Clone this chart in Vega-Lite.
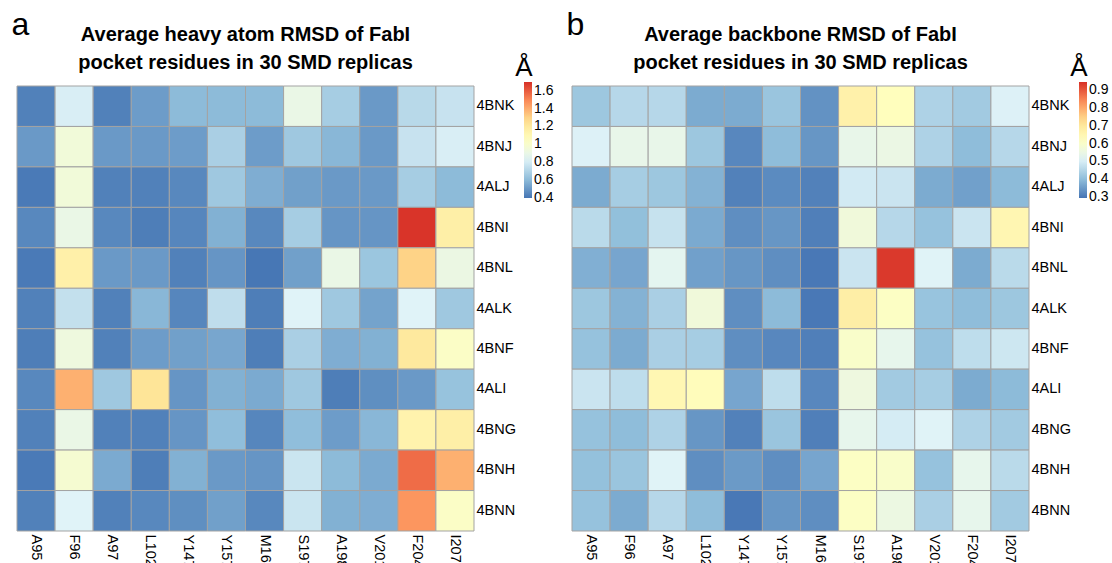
{
  "$schema": "https://vega.github.io/schema/vega-lite/v6.json",
  "background": "white",
  "padding": {"left": 11, "top": 8, "right": 0, "bottom": 0},
  "spacing": 12,
  "config": {
    "font": "Liberation Sans",
    "view": {"stroke": null},
    "scale": {"bandPaddingInner": 0, "bandPaddingOuter": 0},
    "axis": {"ticks": false, "domain": false, "grid": false, "title": null, "labelFont": "Liberation Sans", "labelFontSize": 14.5, "labelColor": "#000000"},
    "axisX": {"labelAngle": 90, "labelAlign": "left", "labelBaseline": "middle", "labelPadding": 3},
    "axisY": {"labelPadding": 2},
    "legend": {"gradientLength": 116, "gradientThickness": 8, "gradientStrokeWidth": 0, "titleFont": "Liberation Sans", "titleFontSize": 26, "titleFontWeight": "normal", "titleColor": "#000000", "titleAnchor": "start", "titleAlign": "center", "titlePadding": 1, "labelFont": "Liberation Sans", "labelFontSize": 14, "labelColor": "#000000", "labelOffset": 1, "labelOverlap": false}
  },
  "datasets": {
    "heavy": [
      {"pdb":"4BNK","residue":"A95","rmsd":0.43},{"pdb":"4BNK","residue":"F96","rmsd":0.81},{"pdb":"4BNK","residue":"A97","rmsd":0.43},{"pdb":"4BNK","residue":"L102","rmsd":0.51},{"pdb":"4BNK","residue":"Y147","rmsd":0.6},{"pdb":"4BNK","residue":"Y157","rmsd":0.6},{"pdb":"4BNK","residue":"M160","rmsd":0.6},{"pdb":"4BNK","residue":"S197","rmsd":0.9},{"pdb":"4BNK","residue":"A198","rmsd":0.67},{"pdb":"4BNK","residue":"V201","rmsd":0.5},{"pdb":"4BNK","residue":"F204","rmsd":0.72},{"pdb":"4BNK","residue":"I207","rmsd":0.76},
      {"pdb":"4BNJ","residue":"A95","rmsd":0.5},{"pdb":"4BNJ","residue":"F96","rmsd":0.95},{"pdb":"4BNJ","residue":"A97","rmsd":0.5},{"pdb":"4BNJ","residue":"L102","rmsd":0.5},{"pdb":"4BNJ","residue":"Y147","rmsd":0.51},{"pdb":"4BNJ","residue":"Y157","rmsd":0.68},{"pdb":"4BNJ","residue":"M160","rmsd":0.51},{"pdb":"4BNJ","residue":"S197","rmsd":0.65},{"pdb":"4BNJ","residue":"A198","rmsd":0.59},{"pdb":"4BNJ","residue":"V201","rmsd":0.5},{"pdb":"4BNJ","residue":"F204","rmsd":0.76},{"pdb":"4BNJ","residue":"I207","rmsd":0.81},
      {"pdb":"4ALJ","residue":"A95","rmsd":0.41},{"pdb":"4ALJ","residue":"F96","rmsd":0.95},{"pdb":"4ALJ","residue":"A97","rmsd":0.43},{"pdb":"4ALJ","residue":"L102","rmsd":0.43},{"pdb":"4ALJ","residue":"Y147","rmsd":0.45},{"pdb":"4ALJ","residue":"Y157","rmsd":0.65},{"pdb":"4ALJ","residue":"M160","rmsd":0.56},{"pdb":"4ALJ","residue":"S197","rmsd":0.52},{"pdb":"4ALJ","residue":"A198","rmsd":0.5},{"pdb":"4ALJ","residue":"V201","rmsd":0.5},{"pdb":"4ALJ","residue":"F204","rmsd":0.67},{"pdb":"4ALJ","residue":"I207","rmsd":0.6},
      {"pdb":"4BNI","residue":"A95","rmsd":0.45},{"pdb":"4BNI","residue":"F96","rmsd":0.9},{"pdb":"4BNI","residue":"A97","rmsd":0.45},{"pdb":"4BNI","residue":"L102","rmsd":0.42},{"pdb":"4BNI","residue":"Y147","rmsd":0.445},{"pdb":"4BNI","residue":"Y157","rmsd":0.57},{"pdb":"4BNI","residue":"M160","rmsd":0.45},{"pdb":"4BNI","residue":"S197","rmsd":0.67},{"pdb":"4BNI","residue":"A198","rmsd":0.49},{"pdb":"4BNI","residue":"V201","rmsd":0.49},{"pdb":"4BNI","residue":"F204","rmsd":1.69},{"pdb":"4BNI","residue":"I207","rmsd":1.16},
      {"pdb":"4BNL","residue":"A95","rmsd":0.41},{"pdb":"4BNL","residue":"F96","rmsd":1.15},{"pdb":"4BNL","residue":"A97","rmsd":0.5},{"pdb":"4BNL","residue":"L102","rmsd":0.5},{"pdb":"4BNL","residue":"Y147","rmsd":0.43},{"pdb":"4BNL","residue":"Y157","rmsd":0.49},{"pdb":"4BNL","residue":"M160","rmsd":0.4},{"pdb":"4BNL","residue":"S197","rmsd":0.52},{"pdb":"4BNL","residue":"A198","rmsd":0.9},{"pdb":"4BNL","residue":"V201","rmsd":0.64},{"pdb":"4BNL","residue":"F204","rmsd":1.3},{"pdb":"4BNL","residue":"I207","rmsd":0.91},
      {"pdb":"4ALK","residue":"A95","rmsd":0.43},{"pdb":"4ALK","residue":"F96","rmsd":0.75},{"pdb":"4ALK","residue":"A97","rmsd":0.43},{"pdb":"4ALK","residue":"L102","rmsd":0.59},{"pdb":"4ALK","residue":"Y147","rmsd":0.445},{"pdb":"4ALK","residue":"Y157","rmsd":0.74},{"pdb":"4ALK","residue":"M160","rmsd":0.42},{"pdb":"4ALK","residue":"S197","rmsd":0.83},{"pdb":"4ALK","residue":"A198","rmsd":0.65},{"pdb":"4ALK","residue":"V201","rmsd":0.53},{"pdb":"4ALK","residue":"F204","rmsd":0.83},{"pdb":"4ALK","residue":"I207","rmsd":0.65},
      {"pdb":"4BNF","residue":"A95","rmsd":0.42},{"pdb":"4BNF","residue":"F96","rmsd":0.93},{"pdb":"4BNF","residue":"A97","rmsd":0.43},{"pdb":"4BNF","residue":"L102","rmsd":0.51},{"pdb":"4BNF","residue":"Y147","rmsd":0.52},{"pdb":"4BNF","residue":"Y157","rmsd":0.54},{"pdb":"4BNF","residue":"M160","rmsd":0.42},{"pdb":"4BNF","residue":"S197","rmsd":0.68},{"pdb":"4BNF","residue":"A198","rmsd":0.56},{"pdb":"4BNF","residue":"V201","rmsd":0.57},{"pdb":"4BNF","residue":"F204","rmsd":1.2},{"pdb":"4BNF","residue":"I207","rmsd":1.02},
      {"pdb":"4ALI","residue":"A95","rmsd":0.45},{"pdb":"4ALI","residue":"F96","rmsd":1.39},{"pdb":"4ALI","residue":"A97","rmsd":0.65},{"pdb":"4ALI","residue":"L102","rmsd":1.23},{"pdb":"4ALI","residue":"Y147","rmsd":0.49},{"pdb":"4ALI","residue":"Y157","rmsd":0.57},{"pdb":"4ALI","residue":"M160","rmsd":0.55},{"pdb":"4ALI","residue":"S197","rmsd":0.65},{"pdb":"4ALI","residue":"A198","rmsd":0.42},{"pdb":"4ALI","residue":"V201","rmsd":0.47},{"pdb":"4ALI","residue":"F204","rmsd":0.5},{"pdb":"4ALI","residue":"I207","rmsd":0.63},
      {"pdb":"4BNG","residue":"A95","rmsd":0.43},{"pdb":"4BNG","residue":"F96","rmsd":0.9},{"pdb":"4BNG","residue":"A97","rmsd":0.43},{"pdb":"4BNG","residue":"L102","rmsd":0.43},{"pdb":"4BNG","residue":"Y147","rmsd":0.49},{"pdb":"4BNG","residue":"Y157","rmsd":0.61},{"pdb":"4BNG","residue":"M160","rmsd":0.445},{"pdb":"4BNG","residue":"S197","rmsd":0.61},{"pdb":"4BNG","residue":"A198","rmsd":0.51},{"pdb":"4BNG","residue":"V201","rmsd":0.59},{"pdb":"4BNG","residue":"F204","rmsd":1.13},{"pdb":"4BNG","residue":"I207","rmsd":1.16},
      {"pdb":"4BNH","residue":"A95","rmsd":0.41},{"pdb":"4BNH","residue":"F96","rmsd":0.98},{"pdb":"4BNH","residue":"A97","rmsd":0.55},{"pdb":"4BNH","residue":"L102","rmsd":0.42},{"pdb":"4BNH","residue":"Y147","rmsd":0.57},{"pdb":"4BNH","residue":"Y157","rmsd":0.5},{"pdb":"4BNH","residue":"M160","rmsd":0.49},{"pdb":"4BNH","residue":"S197","rmsd":0.77},{"pdb":"4BNH","residue":"A198","rmsd":0.6},{"pdb":"4BNH","residue":"V201","rmsd":0.55},{"pdb":"4BNH","residue":"F204","rmsd":1.56},{"pdb":"4BNH","residue":"I207","rmsd":1.39},
      {"pdb":"4BNN","residue":"A95","rmsd":0.43},{"pdb":"4BNN","residue":"F96","rmsd":0.83},{"pdb":"4BNN","residue":"A97","rmsd":0.43},{"pdb":"4BNN","residue":"L102","rmsd":0.45},{"pdb":"4BNN","residue":"Y147","rmsd":0.47},{"pdb":"4BNN","residue":"Y157","rmsd":0.52},{"pdb":"4BNN","residue":"M160","rmsd":0.45},{"pdb":"4BNN","residue":"S197","rmsd":0.77},{"pdb":"4BNN","residue":"A198","rmsd":0.57},{"pdb":"4BNN","residue":"V201","rmsd":0.56},{"pdb":"4BNN","residue":"F204","rmsd":1.46},{"pdb":"4BNN","residue":"I207","rmsd":1.02}
    ],
    "backbone": [
      {"pdb":"4BNK","residue":"A95","rmsd":0.42},{"pdb":"4BNK","residue":"F96","rmsd":0.454},{"pdb":"4BNK","residue":"A97","rmsd":0.454},{"pdb":"4BNK","residue":"L102","rmsd":0.374},{"pdb":"4BNK","residue":"Y147","rmsd":0.374},{"pdb":"4BNK","residue":"Y157","rmsd":0.416},{"pdb":"4BNK","residue":"M160","rmsd":0.338},{"pdb":"4BNK","residue":"S197","rmsd":0.668},{"pdb":"4BNK","residue":"A198","rmsd":0.625},{"pdb":"4BNK","residue":"V201","rmsd":0.443},{"pdb":"4BNK","residue":"F204","rmsd":0.427},{"pdb":"4BNK","residue":"I207","rmsd":0.508},
      {"pdb":"4BNJ","residue":"A95","rmsd":0.508},{"pdb":"4BNJ","residue":"F96","rmsd":0.54},{"pdb":"4BNJ","residue":"A97","rmsd":0.54},{"pdb":"4BNJ","residue":"L102","rmsd":0.42},{"pdb":"4BNJ","residue":"Y147","rmsd":0.322},{"pdb":"4BNJ","residue":"Y157","rmsd":0.4},{"pdb":"4BNJ","residue":"M160","rmsd":0.343},{"pdb":"4BNJ","residue":"S197","rmsd":0.54},{"pdb":"4BNJ","residue":"A198","rmsd":0.55},{"pdb":"4BNJ","residue":"V201","rmsd":0.443},{"pdb":"4BNJ","residue":"F204","rmsd":0.4},{"pdb":"4BNJ","residue":"I207","rmsd":0.454},
      {"pdb":"4ALJ","residue":"A95","rmsd":0.374},{"pdb":"4ALJ","residue":"F96","rmsd":0.432},{"pdb":"4ALJ","residue":"A97","rmsd":0.42},{"pdb":"4ALJ","residue":"L102","rmsd":0.385},{"pdb":"4ALJ","residue":"Y147","rmsd":0.313},{"pdb":"4ALJ","residue":"Y157","rmsd":0.327},{"pdb":"4ALJ","residue":"M160","rmsd":0.313},{"pdb":"4ALJ","residue":"S197","rmsd":0.492},{"pdb":"4ALJ","residue":"A198","rmsd":0.481},{"pdb":"4ALJ","residue":"V201","rmsd":0.374},{"pdb":"4ALJ","residue":"F204","rmsd":0.358},{"pdb":"4ALJ","residue":"I207","rmsd":0.397},
      {"pdb":"4BNI","residue":"A95","rmsd":0.46},{"pdb":"4BNI","residue":"F96","rmsd":0.405},{"pdb":"4BNI","residue":"A97","rmsd":0.476},{"pdb":"4BNI","residue":"L102","rmsd":0.372},{"pdb":"4BNI","residue":"Y147","rmsd":0.332},{"pdb":"4BNI","residue":"Y157","rmsd":0.343},{"pdb":"4BNI","residue":"M160","rmsd":0.31},{"pdb":"4BNI","residue":"S197","rmsd":0.568},{"pdb":"4BNI","residue":"A198","rmsd":0.454},{"pdb":"4BNI","residue":"V201","rmsd":0.41},{"pdb":"4BNI","residue":"F204","rmsd":0.481},{"pdb":"4BNI","residue":"I207","rmsd":0.651},
      {"pdb":"4BNL","residue":"A95","rmsd":0.38},{"pdb":"4BNL","residue":"F96","rmsd":0.366},{"pdb":"4BNL","residue":"A97","rmsd":0.527},{"pdb":"4BNL","residue":"L102","rmsd":0.358},{"pdb":"4BNL","residue":"Y147","rmsd":0.343},{"pdb":"4BNL","residue":"Y157","rmsd":0.332},{"pdb":"4BNL","residue":"M160","rmsd":0.3},{"pdb":"4BNL","residue":"S197","rmsd":0.481},{"pdb":"4BNL","residue":"A198","rmsd":0.935},{"pdb":"4BNL","residue":"V201","rmsd":0.513},{"pdb":"4BNL","residue":"F204","rmsd":0.374},{"pdb":"4BNL","residue":"I207","rmsd":0.46},
      {"pdb":"4ALK","residue":"A95","rmsd":0.42},{"pdb":"4ALK","residue":"F96","rmsd":0.385},{"pdb":"4ALK","residue":"A97","rmsd":0.437},{"pdb":"4ALK","residue":"L102","rmsd":0.568},{"pdb":"4ALK","residue":"Y147","rmsd":0.332},{"pdb":"4ALK","residue":"Y157","rmsd":0.397},{"pdb":"4ALK","residue":"M160","rmsd":0.3},{"pdb":"4ALK","residue":"S197","rmsd":0.678},{"pdb":"4ALK","residue":"A198","rmsd":0.61},{"pdb":"4ALK","residue":"V201","rmsd":0.413},{"pdb":"4ALK","residue":"F204","rmsd":0.4},{"pdb":"4ALK","residue":"I207","rmsd":0.42},
      {"pdb":"4BNF","residue":"A95","rmsd":0.41},{"pdb":"4BNF","residue":"F96","rmsd":0.374},{"pdb":"4BNF","residue":"A97","rmsd":0.437},{"pdb":"4BNF","residue":"L102","rmsd":0.432},{"pdb":"4BNF","residue":"Y147","rmsd":0.332},{"pdb":"4BNF","residue":"Y157","rmsd":0.322},{"pdb":"4BNF","residue":"M160","rmsd":0.31},{"pdb":"4BNF","residue":"S197","rmsd":0.6},{"pdb":"4BNF","residue":"A198","rmsd":0.535},{"pdb":"4BNF","residue":"V201","rmsd":0.41},{"pdb":"4BNF","residue":"F204","rmsd":0.465},{"pdb":"4BNF","residue":"I207","rmsd":0.486},
      {"pdb":"4ALI","residue":"A95","rmsd":0.481},{"pdb":"4ALI","residue":"F96","rmsd":0.465},{"pdb":"4ALI","residue":"A97","rmsd":0.648},{"pdb":"4ALI","residue":"L102","rmsd":0.63},{"pdb":"4ALI","residue":"Y147","rmsd":0.366},{"pdb":"4ALI","residue":"Y157","rmsd":0.465},{"pdb":"4ALI","residue":"M160","rmsd":0.322},{"pdb":"4ALI","residue":"S197","rmsd":0.56},{"pdb":"4ALI","residue":"A198","rmsd":0.427},{"pdb":"4ALI","residue":"V201","rmsd":0.432},{"pdb":"4ALI","residue":"F204","rmsd":0.374},{"pdb":"4ALI","residue":"I207","rmsd":0.397},
      {"pdb":"4BNG","residue":"A95","rmsd":0.41},{"pdb":"4BNG","residue":"F96","rmsd":0.4},{"pdb":"4BNG","residue":"A97","rmsd":0.443},{"pdb":"4BNG","residue":"L102","rmsd":0.343},{"pdb":"4BNG","residue":"Y147","rmsd":0.313},{"pdb":"4BNG","residue":"Y157","rmsd":0.416},{"pdb":"4BNG","residue":"M160","rmsd":0.31},{"pdb":"4BNG","residue":"S197","rmsd":0.535},{"pdb":"4BNG","residue":"A198","rmsd":0.497},{"pdb":"4BNG","residue":"V201","rmsd":0.513},{"pdb":"4BNG","residue":"F204","rmsd":0.443},{"pdb":"4BNG","residue":"I207","rmsd":0.427},
      {"pdb":"4BNH","residue":"A95","rmsd":0.407},{"pdb":"4BNH","residue":"F96","rmsd":0.416},{"pdb":"4BNH","residue":"A97","rmsd":0.513},{"pdb":"4BNH","residue":"L102","rmsd":0.332},{"pdb":"4BNH","residue":"Y147","rmsd":0.349},{"pdb":"4BNH","residue":"Y157","rmsd":0.332},{"pdb":"4BNH","residue":"M160","rmsd":0.366},{"pdb":"4BNH","residue":"S197","rmsd":0.61},{"pdb":"4BNH","residue":"A198","rmsd":0.6},{"pdb":"4BNH","residue":"V201","rmsd":0.41},{"pdb":"4BNH","residue":"F204","rmsd":0.535},{"pdb":"4BNH","residue":"I207","rmsd":0.46},
      {"pdb":"4BNN","residue":"A95","rmsd":0.41},{"pdb":"4BNN","residue":"F96","rmsd":0.374},{"pdb":"4BNN","residue":"A97","rmsd":0.454},{"pdb":"4BNN","residue":"L102","rmsd":0.4},{"pdb":"4BNN","residue":"Y147","rmsd":0.3},{"pdb":"4BNN","residue":"Y157","rmsd":0.343},{"pdb":"4BNN","residue":"M160","rmsd":0.332},{"pdb":"4BNN","residue":"S197","rmsd":0.61},{"pdb":"4BNN","residue":"A198","rmsd":0.553},{"pdb":"4BNN","residue":"V201","rmsd":0.437},{"pdb":"4BNN","residue":"F204","rmsd":0.535},{"pdb":"4BNN","residue":"I207","rmsd":0.427}
    ]
  },
  "hconcat": [
    {
      "title": {"text": "a", "anchor": "start", "fontSize": 32, "fontWeight": "normal", "font": "Liberation Sans", "color": "#000000", "dx": -5, "offset": -17},
      "vconcat": [
        {
          "data": {"name": "heavy"},
          "title": {"text": ["Average heavy atom RMSD of FabI", "pocket residues in 30 SMD replicas"], "anchor": "middle", "frame": "group", "fontSize": 20, "fontWeight": "bold", "font": "Liberation Sans", "color": "#000000", "lineHeight": 28, "offset": 13},
          "width": 457,
          "height": 445,
          "mark": {"type": "rect", "stroke": "#a3a3a3", "strokeWidth": 1},
          "encoding": {
            "x": {"field": "residue", "type": "nominal", "sort": ["A95","F96","A97","L102","Y147","Y157","M160","S197","A198","V201","F204","I207"], "axis": {"orient": "bottom"}},
            "y": {"field": "pdb", "type": "nominal", "sort": ["4BNK","4BNJ","4ALJ","4BNI","4BNL","4ALK","4BNF","4ALI","4BNG","4BNH","4BNN"], "axis": {"orient": "right"}},
            "color": {"field": "rmsd", "type": "quantitative",
              "scale": {"domain": [0.395, 1.7], "range": ["#4575b4","#91bfdb","#e0f3f8","#ffffbf","#fee090","#fc8d59","#d73027"], "interpolate": "rgb"},
              "legend": {"title": "Å", "orient": "none", "legendX": 498, "legendY": -31, "gradientLength": 116, "gradientThickness": 8, "labelFontSize": 14, "values": [0.4, 0.6, 0.8, 1, 1.2, 1.4, 1.6], "format": "~g"}}
          }
        }
      ]
    },
    {
      "title": {"text": "b", "anchor": "start", "fontSize": 32, "fontWeight": "normal", "font": "Liberation Sans", "color": "#000000", "dx": -5, "offset": -17},
      "vconcat": [
        {
          "data": {"name": "backbone"},
          "title": {"text": ["Average backbone RMSD of FabI", "pocket residues in 30 SMD replicas"], "anchor": "middle", "frame": "group", "fontSize": 20, "fontWeight": "bold", "font": "Liberation Sans", "color": "#000000", "lineHeight": 28, "offset": 13},
          "width": 457,
          "height": 445,
          "mark": {"type": "rect", "stroke": "#a3a3a3", "strokeWidth": 1},
          "encoding": {
            "x": {"field": "residue", "type": "nominal", "sort": ["A95","F96","A97","L102","Y147","Y157","M160","S197","A198","V201","F204","I207"], "axis": {"orient": "bottom"}},
            "y": {"field": "pdb", "type": "nominal", "sort": ["4BNK","4BNJ","4ALJ","4BNI","4BNL","4ALK","4BNF","4ALI","4BNG","4BNH","4BNN"], "axis": {"orient": "right"}},
            "color": {"field": "rmsd", "type": "quantitative",
              "scale": {"domain": [0.295, 0.945], "range": ["#4575b4","#91bfdb","#e0f3f8","#ffffbf","#fee090","#fc8d59","#d73027"], "interpolate": "rgb"},
              "legend": {"title": "Å", "orient": "none", "legendX": 498, "legendY": -31, "gradientLength": 116, "gradientThickness": 8, "labelFontSize": 14, "values": [0.3, 0.4, 0.5, 0.6, 0.7, 0.8, 0.9], "format": "~g"}}
          }
        }
      ]
    }
  ],
  "resolve": {"scale": {"color": "independent"}, "legend": {"color": "independent"}}
}
